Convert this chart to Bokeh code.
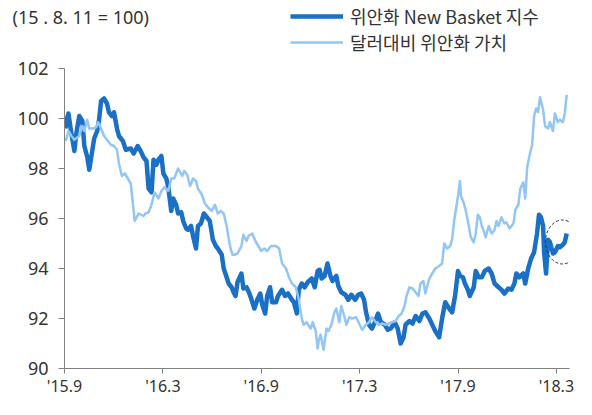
from bokeh.plotting import figure
from bokeh.layouts import column
from bokeh.models import FixedTicker, Label, Legend, LegendItem, Range1d, ColumnDataSource
from bokeh.embed import file_html
from bokeh.resources import INLINE

# months after '15.9 (x) and index values (y)
nb_x = [0.06,0.12,0.24,0.42,0.60,0.72,0.90,1.09,1.21,1.39,
        1.51,1.69,1.81,1.99,2.11,2.23,2.41,2.59,2.71,2.89,
        3.02,3.20,3.32,3.56,3.74,4.04,4.22,4.46,4.64,4.82,
        5.00,5.13,5.31,5.43,5.61,5.73,5.91,6.03,6.21,6.33,
        6.51,6.63,6.81,6.93,7.12,7.24,7.42,7.54,7.72,7.84,
        8.02,8.14,8.32,8.50,8.68,8.86,9.05,9.23,9.35,9.59,
        9.71,9.89,10.01,10.19,10.31,10.43,10.55,10.79,10.91,11.10,
        11.28,11.46,11.58,11.76,11.94,12.06,12.24,12.36,12.54,12.66,
        12.90,13.02,13.27,13.45,13.63,13.87,13.99,14.17,14.29,14.47,
        14.65,14.83,15.08,15.26,15.44,15.56,15.68,15.86,16.04,16.22,
        16.34,16.58,16.70,16.88,17.13,17.31,17.49,17.73,17.91,18.09,
        18.27,18.39,18.57,18.75,18.93,19.12,19.30,19.54,19.72,19.90,
        20.14,20.32,20.50,20.68,20.80,21.04,21.23,21.41,21.65,21.83,
        22.01,22.25,22.43,22.61,22.85,23.03,23.22,23.46,23.64,23.82,
        24.00,24.12,24.30,24.42,24.60,24.72,24.96,25.08,25.27,25.45,
        25.63,25.87,26.05,26.23,26.47,26.65,26.83,27.07,27.26,27.44,
        27.56,27.74,27.98,28.10,28.28,28.46,28.64,28.82,28.94,29.06,
        29.19,29.25,29.37,29.49,29.61,29.79,29.91,30.09,30.21,30.39,
        30.51,30.63]
nb_y = [99.6,99.9,100.2,99.4,98.7,99.4,100.1,99.9,98.9,98.45,
        97.95,98.7,99.2,99.5,99.95,100.7,100.8,100.6,100.25,100.1,
        100.25,99.6,99.3,99.1,98.75,98.8,98.6,98.9,98.7,98.45,
        98.3,97.2,97.05,98.35,98.15,98.35,98.5,97.8,97.6,97.25,
        96.3,96.8,96.55,96.2,96.25,95.9,95.6,95.55,95.7,95.3,
        94.8,95.7,95.8,96.2,96.05,95.9,95.15,94.9,94.8,94.55,
        94.0,93.65,93.4,93.25,93.05,92.9,93.45,93.8,93.2,93.25,
        93.0,92.65,92.4,92.75,93.0,92.55,92.2,92.9,93.25,92.65,
        92.65,92.9,93.15,92.9,93.0,92.75,92.65,92.2,93.15,93.4,
        93.25,93.45,93.6,93.25,93.9,93.95,93.6,93.7,94.2,93.7,
        93.5,93.7,93.3,93.05,92.95,92.75,92.95,92.75,92.95,93.0,
        92.75,92.25,91.75,91.6,91.85,92.2,91.85,91.75,91.55,91.6,
        91.85,91.6,91.0,91.25,91.75,91.9,91.8,92.1,91.9,92.2,
        92.25,92.0,91.75,91.5,91.25,92.0,92.65,92.4,92.25,92.9,
        93.9,93.7,93.65,93.4,93.15,92.9,93.25,93.9,93.65,93.65,
        93.9,94.0,93.8,93.4,93.25,93.15,93.0,93.2,93.15,93.4,
        93.8,93.65,93.8,93.4,94.0,94.4,94.65,95.4,96.15,96.05,
        95.7,94.65,93.8,95.15,95.05,94.6,94.65,94.9,94.85,94.95,
        95.05,95.4]

usd_x = [0.06,0.12,0.24,0.42,0.60,0.90,1.09,1.21,1.39,1.51,
         1.75,1.93,2.05,2.23,2.41,2.65,2.83,3.02,3.20,3.32,
         3.50,3.68,3.86,4.04,4.22,4.28,4.52,4.82,4.94,5.13,
         5.31,5.49,5.73,5.91,6.09,6.33,6.51,6.69,6.93,7.18,
         7.30,7.48,7.66,7.84,8.02,8.14,8.38,8.56,8.74,8.98,
         9.17,9.35,9.53,9.71,9.89,10.01,10.13,10.25,10.37,10.55,
         10.79,10.91,11.10,11.22,11.46,11.64,11.82,12.00,12.18,12.36,
         12.60,12.90,13.09,13.27,13.51,13.69,13.87,14.11,14.29,14.47,
         14.59,14.77,15.01,15.14,15.32,15.44,15.50,15.62,15.80,15.98,
         16.10,16.28,16.46,16.58,16.76,16.88,17.06,17.19,17.37,17.55,
         17.79,17.97,18.15,18.39,18.57,18.75,18.99,19.18,19.36,19.60,
         19.78,19.96,20.20,20.38,20.56,20.74,20.86,21.04,21.23,21.41,
         21.59,21.71,21.89,22.01,22.25,22.43,22.61,22.85,23.03,23.16,
         23.34,23.52,23.64,23.76,23.88,24.00,24.12,24.18,24.36,24.48,
         24.66,24.78,24.96,25.08,25.21,25.33,25.45,25.57,25.69,25.87,
         26.05,26.23,26.35,26.47,26.65,26.83,26.95,27.14,27.38,27.50,
         27.68,27.80,27.98,28.10,28.22,28.34,28.52,28.64,28.76,28.88,
         29.00,29.19,29.31,29.49,29.61,29.79,29.91,30.09,30.21,30.39,
         30.51,30.63]
usd_y = [99.1,99.2,99.5,99.3,99.15,99.3,99.7,99.5,99.95,99.6,
         99.6,99.65,99.85,99.6,99.3,99.1,98.95,98.9,98.75,98.2,
         97.7,97.8,97.6,97.4,96.3,95.9,96.2,96.1,96.2,96.25,
         96.55,97.05,96.8,97.1,97.25,97.1,97.6,97.6,98.0,97.7,
         97.9,97.75,97.3,97.6,97.5,97.2,96.95,96.6,96.45,96.3,
         96.55,96.2,96.3,96.2,95.7,95.2,94.8,94.55,94.55,94.6,
         94.9,95.35,95.1,95.3,95.4,95.1,94.9,94.7,94.8,94.7,
         94.9,94.9,94.8,94.2,94.0,93.65,93.4,93.25,92.75,92.0,
         91.75,91.85,91.6,91.85,91.5,90.8,91.1,91.35,90.75,91.6,
         91.5,91.75,92.25,92.4,91.85,92.5,92.1,91.75,92.05,92.0,
         92.05,91.8,91.55,91.75,91.85,92.05,91.85,91.75,91.8,91.75,
         91.8,91.85,91.9,92.1,92.2,92.5,92.9,93.25,93.2,93.05,
         92.9,93.4,93.5,93.0,93.6,93.8,94.0,94.1,94.2,95.0,
         94.8,94.9,95.15,95.9,96.4,96.9,97.5,96.9,96.6,96.3,
         95.7,95.25,95.05,95.4,96.15,96.05,95.7,95.5,95.25,95.7,
         95.4,95.55,95.9,95.7,96.05,95.8,95.85,95.6,95.8,96.35,
         96.55,97.2,97.45,96.8,98.05,98.45,98.95,100.1,100.4,100.25,
         100.85,100.35,99.7,99.6,99.85,99.5,100.2,99.85,99.95,99.85,
         100.2,100.95]

tick_pos = [0, 6, 12, 18, 24, 30]
tick_labels = ["'15.9", "'16.3", "'16.9", "'17.3", "'17.9", "'18.3"]
y_ticks = [90, 92, 94, 96, 98, 100, 102]
series_names = ["위안화 New Basket 지수", "달러대비 위안화 가치"]
note_text = "(15 . 8. 11 = 100)"
# dashed callout around the latest New Basket values
callout_x, callout_y = 30.37, 95.06

DARK = "#1a6fc6"
LIGHT = "#93c6f4"
TXT = "#333333"
KFONT = "Noto Sans CJK KR"
NFONT = "Noto Sans"
W = 576
HEAD_H = 55
NAN = float("nan")

# ---- header: unit note + legend ----
head = figure(width=W, height=HEAD_H, output_backend="svg", toolbar_location=None,
              x_range=Range1d(0, W), y_range=Range1d(0, HEAD_H),
              min_border=0, x_axis_type=None, y_axis_type=None)
head.frame_align = False
head.outline_line_color = None
head.xgrid.visible = False
head.ygrid.visible = False
head.add_layout(Label(x=12, y=HEAD_H - 16, text=note_text, text_font=NFONT,
                      text_font_size="18px", text_color=TXT, text_baseline="middle"))
d_nb = head.line([NAN], [NAN], line_color=DARK, line_width=4.5)
d_usd = head.line([NAN], [NAN], line_color=LIGHT, line_width=2.5)
legend = Legend(items=[LegendItem(label=series_names[0], renderers=[d_nb]),
                       LegendItem(label=series_names[1], renderers=[d_usd])],
                location=(290, 0), orientation="vertical",
                glyph_width=53, glyph_height=20, label_standoff=7, spacing=0,
                padding=0, margin=0, border_line_color=None, background_fill_alpha=0,
                label_text_font=KFONT, label_text_font_size="18px", label_text_color=TXT,
                label_height=20)
head.add_layout(legend, "center")

# ---- main chart ----
p = figure(width=W, height=399 - HEAD_H, output_backend="svg", toolbar_location=None,
           x_range=Range1d(0, 30.8), y_range=Range1d(90, 102),
           min_border_left=64, min_border_right=7, min_border_top=13, min_border_bottom=28)
p.frame_align = False
p.outline_line_color = None
p.xgrid.visible = False
p.ygrid.visible = False

src_nb = ColumnDataSource(dict(x=nb_x, y=nb_y))
src_usd = ColumnDataSource(dict(x=usd_x, y=usd_y))
p.line("x", "y", source=src_nb, line_color=DARK, line_width=4.5, line_join="round")
p.line("x", "y", source=src_usd, line_color=LIGHT, line_width=2.5, line_join="round")

p.ellipse(x=[callout_x], y=[callout_y], width=[34], height=[44],
          width_units="screen", height_units="screen",
          fill_color=None, line_color="#333333", line_dash="3 2", line_width=1)

for ax in (p.xaxis[0], p.yaxis[0]):
    ax.axis_line_color = "#808080"
    ax.major_tick_line_color = "#808080"
    ax.minor_tick_line_color = None
    ax.major_tick_in = 0
    ax.major_label_text_color = TXT
    ax.major_label_text_font = NFONT

p.xaxis.ticker = FixedTicker(ticks=tick_pos)
p.xaxis.major_label_overrides = {t: l for t, l in zip(tick_pos, tick_labels)}
p.xaxis.major_tick_out = 5
p.xaxis.major_label_standoff = 1
p.xaxis.major_label_text_font_size = "16px"

p.yaxis.ticker = FixedTicker(ticks=y_ticks)
p.yaxis.major_tick_out = 6
p.yaxis.major_label_standoff = 10
p.yaxis.major_label_text_font_size = "18px"

layout = column(head, p, spacing=0)
open("out.html", "w").write(file_html(layout, INLINE))
